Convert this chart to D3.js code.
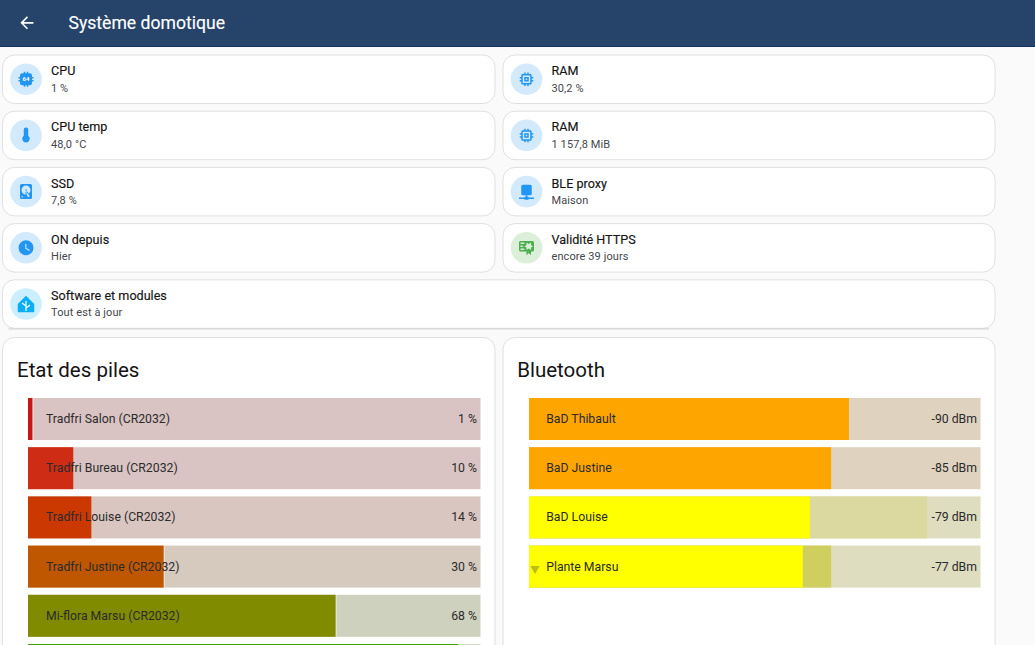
<!DOCTYPE html>
<html>
<head>
<meta charset="utf-8">
<title>Système domotique</title>
<script src="https://cdn.jsdelivr.net/npm/d3@7"></script>
<style>
html, body { margin: 0; padding: 0; background: #fafafa; overflow: hidden; }
svg { display: block; font-family: Roboto, sans-serif; }
</style>
</head>
<body>
<div id="chart"></div>
<script>
var width = 1035;
var height = 645;

// tiles
var tileNames = ['CPU', 'RAM', 'CPU temp', 'RAM', 'SSD', 'BLE proxy', 'ON depuis', 'Validité HTTPS', 'Software et modules'];
var tileValues = ['1 %', '30,2 %', '48,0 °C', '1 157,8 MiB', '7,8 %', 'Maison', 'Hier', 'encore 39 jours', 'Tout est à jour'];
var tileIcons = ['cpu', 'memory', 'thermometer', 'memory', 'harddisk', 'network', 'clock', 'certificate', 'home'];

// batteries
var batteryNames = ['Tradfri Salon (CR2032)', 'Tradfri Bureau (CR2032)', 'Tradfri Louise (CR2032)', 'Tradfri Justine (CR2032)', 'Mi-flora Marsu (CR2032)', ''];
var batteryValues = [1, 10, 14, 30, 68, 95];
var batteryLabels = ['1 %', '10 %', '14 %', '30 %', '68 %', ''];
var batteryColors = ['#cc1414', '#cf2c16', '#cc3900', '#bf5700', '#808b00', '#3aa100'];
var batteryTracks = ['#d9c4c3', '#d9c4c3', '#d9c6c0', '#d6cabf', '#cfd1bf', '#cfdcbf'];

// bluetooth
var bleNames = ['BaD Thibault', 'BaD Justine', 'BaD Louise', 'Plante Marsu'];
var bleValues = [-90, -85, -79, -77];
var bleMarks = [null, null, -112, -85];
var bleColors = ['#ffa500', '#ffa500', '#ffff00', '#ffff00'];
var bleTracks = ['#dfd3c0', '#dfd3c0', '#dfddc0', '#dfddc0'];
var bleMarkColors = [null, null, '#dbd99f', '#cfcf60'];

var iconPaths = {
    arrow: 'M20,11V13H8L13.5,18.5L12.08,19.92L4.16,12L12.08,4.08L13.5,5.5L8,11H20Z',
    cpu: 'M9,2V4H7A3,3 0 0,0 4,7V9H2V11H4V13H2V15H4V17A3,3 0 0,0 7,20H9V22H11V20H13V22H15V20H17A3,3 0 0,0 20,17V15H22V13H20V11H22V9H20V7A3,3 0 0,0 17,4H15V2H13V4H11V2H9Z',
    memory: 'M17,17H7V7H17M21,11V9H19V7C19,5.89 18.1,5 17,5H15V3H13V5H11V3H9V5H7C5.89,5 5,5.89 5,7V9H3V11H5V13H3V15H5V17A2,2 0 0,0 7,19H9V21H11V19H13V21H15V19H17A2,2 0 0,0 19,17V15H21V13H19V11M13,13H11V11H13M15,9H9V15H15V9Z',
    thermometer: 'M15 13V5A3 3 0 0 0 9 5V13A5 5 0 1 0 15 13Z',
    harddisk: 'M6,2H18A2,2 0 0,1 20,4V20A2,2 0 0,1 18,22H6A2,2 0 0,1 4,20V4A2,2 0 0,1 6,2M12,4A6,6 0 0,0 6,10C6,13.31 8.69,16 12.1,16L11.22,13.77C10.95,13.29 11.11,12.68 11.59,12.4L12.45,11.9C12.93,11.63 13.54,11.79 13.82,12.27L15.74,14.69C17.12,13.59 18,11.9 18,10A6,6 0 0,0 12,4M12,9A1,1 0 0,1 13,10A1,1 0 0,1 12,11A1,1 0 0,1 11,10A1,1 0 0,1 12,9M7,18A1,1 0 0,0 6,19A1,1 0 0,0 7,20A1,1 0 0,0 8,19A1,1 0 0,0 7,18M12.09,13.27L14.58,19.58L17.17,18.08L12.95,12.77L12.09,13.27Z',
    network: 'M15,20A1,1 0 0,0 14,19H13V17H17A2,2 0 0,0 19,15V5A2,2 0 0,0 17,3H7A2,2 0 0,0 5,5V15A2,2 0 0,0 7,17H11V19H10A1,1 0 0,0 9,20H2V22H9A1,1 0 0,0 10,23H14A1,1 0 0,0 15,22H22V20H15Z',
    clock: 'M12,2A10,10 0 0,0 2,12A10,10 0 0,0 12,22A10,10 0 0,0 22,12A10,10 0 0,0 12,2M16.2,16.2L11,13V7H12.5V12.2L17,14.9L16.2,16.2Z',
    certificate: 'M4,3C2.89,3 2,3.89 2,5V15A2,2 0 0,0 4,17H12V22L15,19L18,22V17H20A2,2 0 0,0 22,15V8L22,6V5A2,2 0 0,0 20,3H16V3H4M12,5L15,7L18,5V8.5L21,10L18,11.5V15L15,13L12,15V11.5L9,10L12,8.5V5M4,5H9V7H4V5M4,9H7V11H4V9M4,13H9V15H4V13Z',
    home: 'M12,1L23,12V22A1,1 0 0,1 22,23H2A1,1 0 0,1 1,22V12L12,1Z'
};

var leftX = 2.5;
var rightX = 503;
var cardW = 492.5;
var tileH = 48.5;
var tileY = d3.scaleLinear().domain([0, 1]).range([55, 111.2]);

var svg = d3.select('#chart').append('svg')
    .attr('width', width)
    .attr('height', height);

svg.append('rect').attr('width', width).attr('height', height).attr('fill', '#fafafa');

// header
svg.append('rect').attr('width', width).attr('height', 47).attr('fill', '#264369');
svg.append('rect').attr('y', 46).attr('width', width).attr('height', 1).attr('fill', '#142f5c');
svg.append('path')
    .attr('d', iconPaths.arrow)
    .attr('transform', 'translate(17,13) scale(0.82)')
    .attr('fill', '#fff');
svg.append('text')
    .attr('x', 68.5).attr('y', 29)
    .attr('font-size', 17.6)
    .attr('font-weight', 400)
    .attr('stroke', '#fff').attr('stroke-width', 0.15)
    .attr('fill', '#fff')
    .text('Système domotique');

function card(x, y, w, h) {
    return svg.append('rect')
        .attr('x', x).attr('y', y)
        .attr('width', w).attr('height', h)
        .attr('rx', 12)
        .attr('fill', '#fff')
        .attr('stroke', '#e0e0e0');
}

function drawIcon(g, name) {
    var size = 18 / 24;
    g.append('path')
        .attr('d', iconPaths[name])
        .attr('fill-rule', 'evenodd')
        .attr('transform', 'translate(-9,-9) scale(' + size + ')');
    if (name === 'cpu') {
        g.append('text')
            .attr('text-anchor', 'middle').attr('y', 2.2)
            .attr('font-size', 6).attr('font-weight', 700)
            .attr('fill', '#fff')
            .text('64');
    }
    if (name === 'thermometer') {
        g.select('path').attr('transform', 'translate(-9,-9.5) scale(' + size + ')');
    }
    if (name === 'home') {
        g.append('path')
            .attr('d', 'M0,7V-3M0,2L-4,-1M0,4L4,1')
            .attr('fill', 'none')
            .attr('stroke', '#fff')
            .attr('stroke-width', 1.2);
    }
}

tileNames.forEach(function(name, i) {
    var row = Math.floor(i / 2);
    var x = i % 2 ? rightX : leftX;
    var y = tileY(row);
    var w = i === 8 ? 992.5 : (i % 2 ? 492 : cardW);
    var icon = tileIcons[i];

    card(x, y, w, tileH);
    if (i === 8) {
        svg.append('rect').attr('x', x + 6).attr('y', y + tileH)
            .attr('width', w - 12).attr('height', 1.2).attr('fill', '#d4d4d4');
    }

    var bg = icon === 'certificate' ? '#dbefd9' : (icon === 'home' ? '#ccefff' : '#d3e9fc');
    var fg = icon === 'certificate' ? '#4caf50' : (icon === 'home' ? '#0aaef5' : '#2196f3');
    var g = svg.append('g')
        .attr('transform', 'translate(' + (x + 23.5) + ',' + (y + 24.2) + ')')
        .attr('fill', fg);
    g.append('circle').attr('r', 15.8).attr('fill', bg);
    drawIcon(g, icon);

    svg.append('text')
        .attr('x', x + 48.5).attr('y', y + 20.2)
        .attr('font-size', 12.6).attr('font-weight', 400)
        .attr('stroke', '#141414').attr('stroke-width', 0.15)
        .attr('fill', '#141414')
        .text(name);
    svg.append('text')
        .attr('x', x + 48.5).attr('y', y + 36.5)
        .attr('font-size', 11).attr('letter-spacing', 0.1)
        .attr('fill', '#44474c')
        .text(tileValues[i]);
});

// big cards run past the bottom of the window
card(leftX, 337.5, cardW, 340);
card(rightX, 337.5, 492, 340);

svg.append('text').attr('x', 17).attr('y', 377).attr('font-size', 20.5).attr('fill', '#141414').text('Etat des piles');
svg.append('text').attr('x', 517.2).attr('y', 377).attr('font-size', 20.5).attr('fill', '#141414').text('Bluetooth');

var barH = 42;
var labelSize = 12.25;
var labelColor = '#2b2b2b';
var rowY = d3.scaleLinear().domain([0, 1]).range([398, 447.2]);

var batteryX = d3.scaleLinear().domain([0, 100]).range([28, 480.5]);
var bleX = d3.scaleLinear().domain([0, 127]).range([529, 980.5]);

var batteryRows = svg.append('g').selectAll('g')
    .data(batteryValues)
    .join('g');

batteryRows.append('rect')
    .attr('x', batteryX(0))
    .attr('y', function(d, i) { return rowY(i); })
    .attr('width', batteryX(100) - batteryX(0))
    .attr('height', barH)
    .attr('fill', function(d, i) { return batteryTracks[i]; });

batteryRows.append('rect')
    .attr('x', batteryX(0))
    .attr('y', function(d, i) { return rowY(i); })
    .attr('width', function(d) { return batteryX(d) - batteryX(0); })
    .attr('height', barH)
    .attr('fill', function(d, i) { return batteryColors[i]; });

// pale edge at the end of some of the bars
batteryRows.filter(function(d, i) { return i === 0 || i === 3 || i === 4; })
    .append('rect')
    .attr('x', function(d) { return batteryX(d); })
    .attr('y', function(d) { return rowY(batteryValues.indexOf(d)); })
    .attr('width', 1)
    .attr('height', barH)
    .attr('fill', '#fff')
    .attr('fill-opacity', 0.5);

batteryRows.append('text')
    .attr('x', 46)
    .attr('y', function(d, i) { return rowY(i) + 25; })
    .attr('font-size', labelSize)
    .attr('fill', labelColor)
    .text(function(d, i) { return batteryNames[i]; });

batteryRows.append('text')
    .attr('x', 477)
    .attr('y', function(d, i) { return rowY(i) + 25; })
    .attr('text-anchor', 'end')
    .attr('font-size', labelSize)
    .attr('fill', labelColor)
    .text(function(d, i) { return batteryLabels[i]; });

var bleRows = svg.append('g').selectAll('g')
    .data(bleValues)
    .join('g');

bleRows.append('rect')
    .attr('x', bleX(0))
    .attr('y', function(d, i) { return rowY(i); })
    .attr('width', bleX(127) - bleX(0))
    .attr('height', barH)
    .attr('fill', function(d, i) { return bleTracks[i]; });

bleRows.filter(function(d, i) { return bleMarks[i] !== null; })
    .append('rect')
    .attr('x', bleX(0))
    .attr('y', function(d) { return rowY(bleValues.indexOf(d)); })
    .attr('width', function(d) { return bleX(-bleMarks[bleValues.indexOf(d)]) - bleX(0); })
    .attr('height', barH)
    .attr('fill', function(d) { return bleMarkColors[bleValues.indexOf(d)]; });

bleRows.append('rect')
    .attr('x', bleX(0))
    .attr('y', function(d, i) { return rowY(i); })
    .attr('width', function(d) { return bleX(-d) - bleX(0); })
    .attr('height', barH)
    .attr('fill', function(d, i) { return bleColors[i]; });

bleRows.append('text')
    .attr('x', 546.2)
    .attr('y', function(d, i) { return rowY(i) + 25; })
    .attr('font-size', labelSize)
    .attr('fill', labelColor)
    .text(function(d, i) { return bleNames[i]; });

bleRows.append('text')
    .attr('x', 977)
    .attr('y', function(d, i) { return rowY(i) + 25; })
    .attr('text-anchor', 'end')
    .attr('font-size', labelSize)
    .attr('fill', labelColor)
    .text(function(d) { return d + ' dBm'; });

// down arrow on the last bluetooth row
svg.append('path')
    .attr('d', d3.symbol().type(d3.symbolTriangle).size(38))
    .attr('transform', 'translate(535,' + (rowY(3) + 23) + ') rotate(180)')
    .attr('fill', '#bdbd1c');
</script>
</body>
</html>
